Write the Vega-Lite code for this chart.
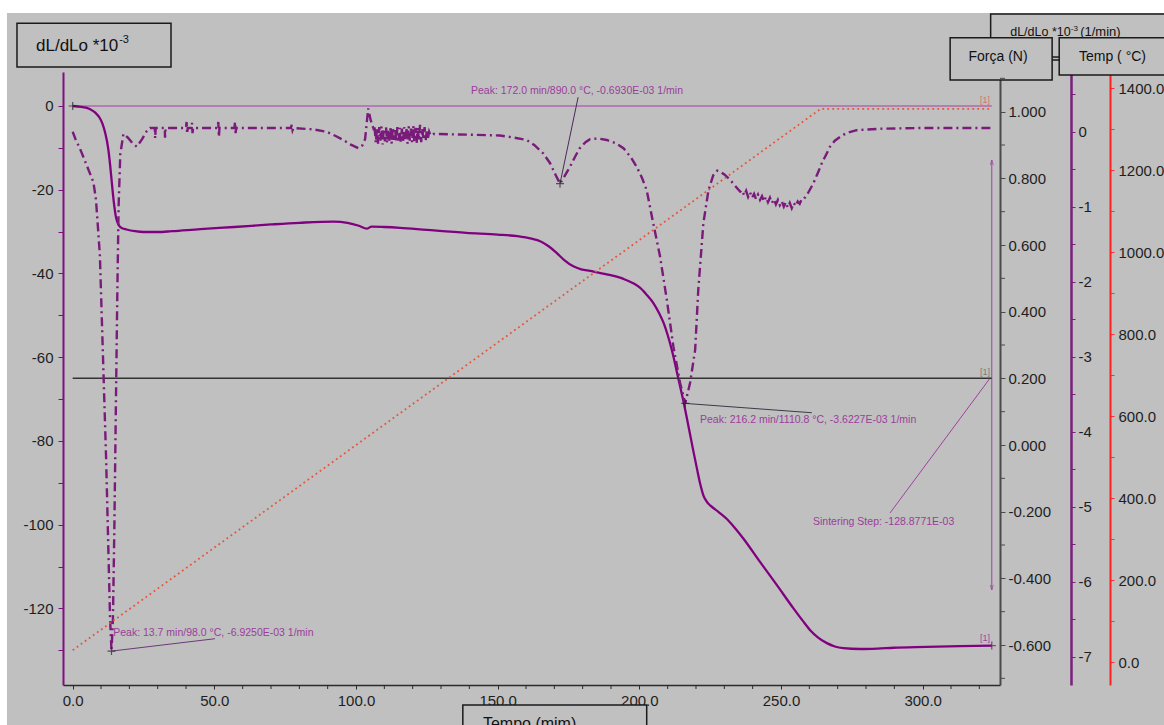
{
  "$schema": "https://vega.github.io/schema/vega-lite/v6.json",
  "width": 937,
  "height": 613,
  "autosize": {"type": "none"},
  "padding": {"left": 63, "top": 72, "right": 164, "bottom": 40},
  "background": "#c0c0c0",
  "config": {
    "view": {"stroke": null},
    "font": "Liberation Sans",
    "locale": {"number": {"decimal": ".", "thousands": ",", "grouping": [3], "currency": ["$", ""], "minus": "-"}},
    "axis": {"grid": false, "title": null, "labelFont": "Liberation Sans", "labelFontSize": 15, "labelColor": "#1e1e1e", "labelOverlap": false, "labelFlush": false}
  },
  "datasets": {
    "dl": [
      {"t":0,"v":0},{"t":3,"v":-0.2},{"t":6,"v":-0.7},{"t":8,"v":-1.6},{"t":9.5,"v":-2.8},{"t":10.5,"v":-4.2},{"t":11.5,"v":-6.5},{"t":12.5,"v":-10},{"t":13.2,"v":-14},{"t":13.7,"v":-17.5},{"t":14.2,"v":-21},{"t":14.7,"v":-24},{"t":15.2,"v":-26.3},{"t":15.8,"v":-27.8},{"t":16.5,"v":-28.7},{"t":17.5,"v":-29.2},{"t":19,"v":-29.5},{"t":22,"v":-29.9},{"t":25,"v":-30.1},{"t":30,"v":-30.1},{"t":35,"v":-29.9},{"t":45,"v":-29.4},{"t":57,"v":-28.9},{"t":70,"v":-28.3},{"t":80,"v":-27.9},{"t":92,"v":-27.6},{"t":97,"v":-27.9},{"t":101,"v":-28.6},{"t":103.8,"v":-29.3},{"t":105.5,"v":-28.8},{"t":110,"v":-28.9},{"t":115.5,"v":-29.1},{"t":125,"v":-29.6},{"t":139,"v":-30.3},{"t":150,"v":-30.7},{"t":157,"v":-31.1},{"t":162,"v":-31.7},{"t":165,"v":-32.3},{"t":168,"v":-33.5},{"t":170.8,"v":-35.1},{"t":173.5,"v":-36.8},{"t":176.7,"v":-38.3},{"t":179.5,"v":-39},{"t":182.6,"v":-39.4},{"t":188.5,"v":-40.2},{"t":194.4,"v":-41.3},{"t":198,"v":-42.4},{"t":200.2,"v":-43.4},{"t":202.5,"v":-45},{"t":204.9,"v":-47},{"t":207,"v":-49.5},{"t":208.5,"v":-51.7},{"t":210,"v":-54.7},{"t":211.4,"v":-58.1},{"t":212.6,"v":-61.5},{"t":213.8,"v":-65.2},{"t":215.5,"v":-70.3},{"t":216.7,"v":-74.3},{"t":217.9,"v":-78.4},{"t":219,"v":-82.2},{"t":220.3,"v":-86.5},{"t":221.5,"v":-90.3},{"t":222.6,"v":-93},{"t":224,"v":-94.7},{"t":225,"v":-95.4},{"t":228,"v":-97},{"t":230.8,"v":-98.6},{"t":233.5,"v":-100.6},{"t":236.7,"v":-103.3},{"t":242.6,"v":-108.9},{"t":248.5,"v":-114.4},{"t":254.4,"v":-120},{"t":257.5,"v":-122.8},{"t":260.3,"v":-125.2},{"t":263,"v":-126.9},{"t":266.2,"v":-128.3},{"t":269,"v":-129.1},{"t":272,"v":-129.5},{"t":277.9,"v":-129.7},{"t":284,"v":-129.6},{"t":289.7,"v":-129.4},{"t":301.4,"v":-129.2},{"t":313.2,"v":-129.0},{"t":324.4,"v":-128.88}
    ],
    "deriv": [
      {"t":0,"v":0},{"t":1,"v":-0.1},{"t":2.5,"v":-0.22},{"t":3.7,"v":-0.33},{"t":5.5,"v":-0.5},{"t":7.3,"v":-0.67},{"t":8.2,"v":-0.9},{"t":8.7,"v":-1.16},{"t":9.6,"v":-1.65},{"t":10.2,"v":-2.39},{"t":10.8,"v":-3.13},{"t":11.8,"v":-4.36},{"t":12.6,"v":-5.59},{"t":13.2,"v":-6.5},{"t":13.7,"v":-6.925},{"t":14.2,"v":-6.5},{"t":14.7,"v":-5.3},{"t":15.2,"v":-3.8},{"t":15.7,"v":-2.3},{"t":16.2,"v":-1.0},{"t":16.8,"v":-0.3},{"t":17.9,"v":-0.03},{"t":19.5,"v":-0.08},{"t":21,"v":-0.15},{"t":22.6,"v":-0.2},{"t":24.5,"v":-0.1},{"t":26,"v":0.0},{"t":27.3,"v":0.05},
      {"t":29,"v":0.05},{"t":29.1,"v":-0.09},{"t":29.3,"v":0.05},{"t":32.5,"v":0.05},{"t":32.6,"v":-0.08},{"t":32.8,"v":0.05},{"t":40,"v":0.05},{"t":40.2,"v":0.13},{"t":40.4,"v":-0.03},{"t":40.6,"v":0.05},{"t":42,"v":0.05},{"t":42.1,"v":0.12},{"t":42.3,"v":-0.02},{"t":42.5,"v":0.05},{"t":51.2,"v":0.05},{"t":51.4,"v":0.13},{"t":51.6,"v":-0.07},{"t":51.8,"v":0.05},{"t":57.1,"v":0.05},{"t":57.3,"v":0.13},{"t":57.5,"v":-0.02},{"t":57.7,"v":0.05},{"t":77,"v":0.05},{"t":77.3,"v":0.09},{"t":77.6,"v":0.02},{"t":77.9,"v":0.05},
      {"t":85,"v":0.03},{"t":89.6,"v":0},{"t":93,"v":-0.06},{"t":95.5,"v":-0.11},{"t":98,"v":-0.17},{"t":100.8,"v":-0.22},{"t":102.3,"v":-0.18},{"t":103.2,"v":-0.1},{"t":104.3,"v":0.31},{"t":105.2,"v":0.15},{"t":106.1,"v":0.05},
      {"t":106.5,"v":0.08},{"t":107,"v":-0.15},{"t":107.4,"v":0.05},{"t":107.8,"v":-0.16},{"t":108.2,"v":0.06},{"t":108.6,"v":-0.12},{"t":109,"v":0.07},{"t":109.4,"v":-0.17},{"t":109.8,"v":0.04},{"t":110.2,"v":-0.13},{"t":110.6,"v":0.06},{"t":111,"v":-0.15},{"t":111.4,"v":0.03},{"t":111.8,"v":-0.12},{"t":112.2,"v":0.07},{"t":112.6,"v":-0.16},{"t":113,"v":0.05},{"t":113.4,"v":-0.11},{"t":113.8,"v":0.04},{"t":114.2,"v":-0.14},{"t":114.6,"v":0.06},{"t":115,"v":-0.12},{"t":115.4,"v":0.05},{"t":115.8,"v":-0.15},{"t":116.2,"v":0.04},{"t":116.6,"v":-0.13},{"t":117,"v":0.06},{"t":117.4,"v":-0.1},{"t":117.8,"v":0.05},{"t":118.2,"v":-0.16},{"t":118.6,"v":0.07},{"t":119,"v":-0.12},{"t":119.4,"v":0.04},{"t":119.8,"v":-0.14},{"t":120.2,"v":0.08},{"t":120.6,"v":-0.13},{"t":121,"v":0.05},{"t":121.4,"v":-0.15},{"t":121.8,"v":0.06},{"t":122.2,"v":-0.12},{"t":122.6,"v":0.09},{"t":123,"v":-0.14},{"t":123.4,"v":0.04},{"t":123.8,"v":-0.11},{"t":124.2,"v":0.06},{"t":124.6,"v":-0.12},{"t":125,"v":0.03},{"t":125.4,"v":-0.08},{"t":125.8,"v":0.0},{"t":126.3,"v":-0.05},
      {"t":127.3,"v":-0.03},{"t":140,"v":-0.04},{"t":150.8,"v":-0.05},{"t":156,"v":-0.08},{"t":160.2,"v":-0.11},{"t":163,"v":-0.18},{"t":166.1,"v":-0.29},{"t":168.5,"v":-0.42},{"t":170.5,"v":-0.58},{"t":172,"v":-0.693},{"t":173.5,"v":-0.6},{"t":175.5,"v":-0.47},{"t":177.5,"v":-0.32},{"t":179,"v":-0.22},{"t":181,"v":-0.14},{"t":182.6,"v":-0.1},{"t":185.5,"v":-0.09},{"t":188.5,"v":-0.11},{"t":191.5,"v":-0.15},{"t":194.4,"v":-0.22},{"t":197,"v":-0.34},{"t":199.1,"v":-0.47},{"t":201,"v":-0.62},{"t":202.6,"v":-0.78},{"t":204.9,"v":-1.22},{"t":207.3,"v":-1.66},{"t":209.7,"v":-2.24},{"t":212,"v":-2.86},{"t":214.4,"v":-3.35},{"t":216.2,"v":-3.6227},{"t":217.9,"v":-3.35},{"t":219.7,"v":-2.91},{"t":220.8,"v":-2.11},{"t":222.6,"v":-1.22},{"t":224.4,"v":-0.78},{"t":226.1,"v":-0.58},{"t":227.5,"v":-0.52},{"t":228.5,"v":-0.53},{"t":230,"v":-0.57},{"t":232,"v":-0.64},{"t":234,"v":-0.73},{"t":235.6,"v":-0.8},
      {"t":236.3,"v":-0.78},{"t":237,"v":-0.85},{"t":237.7,"v":-0.79},{"t":238.4,"v":-0.87},{"t":239.1,"v":-0.81},{"t":239.8,"v":-0.88},{"t":240.5,"v":-0.83},{"t":241.2,"v":-0.9},{"t":241.9,"v":-0.84},{"t":242.6,"v":-0.91},{"t":243.3,"v":-0.86},{"t":244,"v":-0.93},{"t":244.7,"v":-0.87},{"t":245.4,"v":-0.94},{"t":246.1,"v":-0.88},{"t":246.8,"v":-0.95},{"t":247.5,"v":-0.9},{"t":248.2,"v":-0.97},{"t":248.9,"v":-0.91},{"t":249.6,"v":-0.98},{"t":250.3,"v":-0.93},{"t":251,"v":-1.0},{"t":251.7,"v":-0.94},{"t":252.4,"v":-1.01},{"t":253.1,"v":-0.95},{"t":253.8,"v":-1.02},{"t":254.5,"v":-0.95},{"t":255.2,"v":-0.99},{"t":255.9,"v":-0.93},{"t":256.6,"v":-0.96},{"t":257.3,"v":-0.9},{"t":258,"v":-0.9},
      {"t":259.5,"v":-0.82},{"t":261.4,"v":-0.69},{"t":263,"v":-0.55},{"t":264.4,"v":-0.42},{"t":266,"v":-0.3},{"t":267.3,"v":-0.2},{"t":269,"v":-0.12},{"t":270.8,"v":-0.07},{"t":273,"v":-0.02},{"t":276.7,"v":0.02},{"t":285,"v":0.04},{"t":300,"v":0.05},{"t":324.4,"v":0.05}
    ],
    "temp": [
      {"t":0,"v":29.5},{"t":13.7,"v":98.0},{"t":172,"v":890.0},{"t":216.2,"v":1110.8},{"t":264,"v":1350},{"t":324.4,"v":1350}
    ],
    "force": [
      {"t":0,"v":0.2},{"t":324.4,"v":0.2}
    ],
    "xminor": [
      {"t":10},{"t":20},{"t":30},{"t":40},{"t":60},{"t":70},{"t":80},{"t":90},{"t":110},{"t":120},{"t":130},{"t":140},{"t":160},{"t":170},{"t":180},{"t":190},{"t":210},{"t":220},{"t":230},{"t":240},{"t":260},{"t":270},{"t":280},{"t":290},{"t":310},{"t":320}
    ],
    "fminor": [
      {"v":-0.7},{"v":-0.5},{"v":-0.3},{"v":-0.1},{"v":0.1},{"v":0.3},{"v":0.5},{"v":0.7},{"v":0.9},{"v":1.1}
    ]
  },
  "layer": [
    {
      "layer": [
        {"data": {"values": [{}]}, "mark": {"type": "rect", "fill": "#ffffff", "clip": false},
         "encoding": {"x": {"datum": -40}, "x2": {"datum": 420}, "y": {"datum": 40}, "y2": {"datum": 22.2}}},
        {"data": {"values": [{}]}, "mark": {"type": "rect", "fill": "#ffffff", "clip": false},
         "encoding": {"x": {"datum": -40}, "x2": {"datum": -23.2}, "y": {"datum": 40}, "y2": {"datum": -200}}},
        {"data": {"values": [{}]}, "mark": {"type": "rule", "color": "#a040a0", "strokeWidth": 1.2},
         "encoding": {"x": {"datum": 0}, "x2": {"datum": 324.4}, "y": {"datum": 0}}},
        {"data": {"name": "dl"}, "mark": {"type": "line", "color": "#800080", "strokeWidth": 2.3, "interpolate": "monotone"},
         "encoding": {
           "x": {
             "field": "t", "type": "quantitative",
             "scale": {"domain": [-3.42, 327.3], "nice": false, "zero": false},
             "axis": {
               "values": [0,50,100,150,200,250,300],
               "format": ".1f",
               "labelOverlap": false,
               "domainColor": "#2b2b2b", "domainWidth": 1.5, "tickColor": "#2b2b2b", "tickSize": 4, "labelPadding": 4
             }
           },
           "y": {
             "field": "v", "type": "quantitative",
             "scale": {"domain": [-138.3, 8.12], "nice": false, "zero": false},
             "axis": {
               "orient": "left",
               "values": [0,-10,-20,-30,-40,-50,-60,-70,-80,-90,-100,-110,-120,-130],
               "labelExpr": "datum.value % 20 == 0 ? replace(format(datum.value, 'd'), '\u2212', '-') : ''",
               "labelOverlap": false,
               "domainColor": "#7f0f7f", "domainWidth": 2, "tickColor": "#7f0f7f", "tickSize": 5, "labelPadding": 5
             }
           }
         }},
        {"data": {"name": "xminor"}, "mark": {"type": "rule", "color": "#2b2b2b", "strokeWidth": 1, "clip": false},
         "encoding": {"x": {"field": "t", "type": "quantitative"}, "y": {"datum": -138.3}, "y2": {"datum": -139.26}}},
        {"data": {"values": [{}]}, "mark": {"type": "point", "shape": "M-1,0L1,0M0,-1L0,1", "filled": false, "size": 64, "strokeWidth": 1.2, "color": "#222222"},
         "encoding": {"x": {"datum": 0}, "y": {"datum": 0}}},
        {"data": {"values": [{}]}, "mark": {"type": "point", "shape": "M-1,0L1,0M0,-1L0,1", "filled": false, "size": 64, "strokeWidth": 1.2, "color": "#5a1a5a"},
         "encoding": {"x": {"datum": 324.4}, "y": {"datum": -128.88}}},
        {"data": {"values": [{}]}, "mark": {"type": "text", "text": "[1]", "fontSize": 9, "color": "#a040a0", "align": "center", "baseline": "middle"},
         "encoding": {"x": {"datum": 322}, "y": {"datum": -127.1}}},
        {"data": {"values": [{}]}, "mark": {"type": "rule", "color": "#a040a0", "strokeWidth": 1},
         "encoding": {"x": {"datum": 324.4}, "y": {"datum": -12.9}, "y2": {"datum": -115.6}}},
        {"data": {"values": [{}]}, "mark": {"type": "point", "shape": "M-0.3,1L0,0L0.3,1", "filled": false, "size": 100, "strokeWidth": 1, "color": "#a040a0"},
         "encoding": {"x": {"datum": 324.4}, "y": {"datum": -12.9}}},
        {"data": {"values": [{}]}, "mark": {"type": "point", "shape": "M-0.3,-1L0,0L0.3,-1", "filled": false, "size": 100, "strokeWidth": 1, "color": "#a040a0"},
         "encoding": {"x": {"datum": 324.4}, "y": {"datum": -115.6}}},
        {"data": {"values": [{}]}, "mark": {"type": "rule", "color": "#a040a0", "strokeWidth": 1},
         "encoding": {"x": {"datum": 288.5}, "y": {"datum": -97.2}, "x2": {"datum": 323.8}, "y2": {"datum": -65.0}}},
        {"data": {"values": [{}]}, "mark": {"type": "text", "text": "Sintering Step: -128.8771E-03", "fontSize": 10.5, "color": "#9b3d9b", "align": "left", "baseline": "middle"},
         "encoding": {"x": {"datum": 261.3}, "y": {"datum": -99.3}}},
        {"data": {"values": [{}]}, "mark": {"type": "rect", "fill": "#c0c0c0", "stroke": "#1a1a1a", "strokeWidth": 1.5, "clip": false},
         "encoding": {"x": {"datum": -19.66}, "x2": {"datum": 34.7}, "y": {"datum": 19.76}, "y2": {"datum": 9.29}}},
        {"data": {"values": [{}]}, "mark": {"type": "text", "text": "dL/dLo *10", "fontSize": 17, "color": "#111111", "align": "left", "baseline": "middle"},
         "encoding": {"x": {"datum": -12.95}, "y": {"datum": 14.4}}},
        {"data": {"values": [{}]}, "mark": {"type": "text", "text": "-3", "fontSize": 11, "color": "#111111", "align": "left", "baseline": "middle"},
         "encoding": {"x": {"datum": 16.4}, "y": {"datum": 15.8}}},
        {"data": {"values": [{}]}, "mark": {"type": "rect", "fill": "#c0c0c0", "stroke": "#1a1a1a", "strokeWidth": 1.5, "clip": false},
         "encoding": {"x": {"datum": 324.0}, "x2": {"datum": 387.3}, "y": {"datum": 22.0}, "y2": {"datum": 11.0}}},
        {"data": {"values": [{}]}, "mark": {"type": "text", "text": "dL/dLo *10", "fontSize": 12.5, "color": "#111111", "align": "left", "baseline": "middle"},
         "encoding": {"x": {"datum": 330.9}, "y": {"datum": 17.7}}},
        {"data": {"values": [{}]}, "mark": {"type": "text", "text": "-3", "fontSize": 8, "color": "#111111", "align": "left", "baseline": "middle"},
         "encoding": {"x": {"datum": 352.3}, "y": {"datum": 18.5}}},
        {"data": {"values": [{}]}, "mark": {"type": "text", "text": "(1/min)", "fontSize": 13, "color": "#111111", "align": "left", "baseline": "middle"},
         "encoding": {"x": {"datum": 355.6}, "y": {"datum": 17.7}}},
        {"data": {"values": [{}]}, "mark": {"type": "rule", "color": "#1a1a1a", "strokeWidth": 1.5},
         "encoding": {"x": {"datum": 345.7}, "x2": {"datum": 348.2}, "y": {"datum": 11.7}}},
        {"data": {"values": [{}]}, "mark": {"type": "rect", "fill": "#c0c0c0", "stroke": "#1a1a1a", "strokeWidth": 1.5, "clip": false},
         "encoding": {"x": {"datum": 309.7}, "x2": {"datum": 345.7}, "y": {"datum": 16.3}, "y2": {"datum": 6.2}}},
        {"data": {"values": [{}]}, "mark": {"type": "text", "text": "Força (N)", "fontSize": 14, "color": "#111111", "align": "center", "baseline": "middle"},
         "encoding": {"x": {"datum": 326.6}, "y": {"datum": 11.7}}},
        {"data": {"values": [{}]}, "mark": {"type": "rect", "fill": "#c0c0c0", "stroke": "#1a1a1a", "strokeWidth": 1.5, "clip": false},
         "encoding": {"x": {"datum": 348.2}, "x2": {"datum": 387.3}, "y": {"datum": 16.3}, "y2": {"datum": 7.4}}},
        {"data": {"values": [{}]}, "mark": {"type": "text", "text": "Temp ( °C)", "fontSize": 14, "color": "#111111", "align": "center", "baseline": "middle"},
         "encoding": {"x": {"datum": 367.0}, "y": {"datum": 11.7}}},
        {"data": {"values": [{}]}, "mark": {"type": "rect", "fill": "#c0c0c0", "stroke": "#1a1a1a", "strokeWidth": 1.5, "clip": false},
         "encoding": {"x": {"datum": 137.7}, "x2": {"datum": 202.6}, "y": {"datum": -143.1}, "y2": {"datum": -156.2}}},
        {"data": {"values": [{}]}, "mark": {"type": "text", "text": "Tempo (mim)", "fontSize": 16, "color": "#111111", "align": "left", "baseline": "alphabetic"},
         "encoding": {"x": {"datum": 144.8}, "y": {"datum": -148.7}}}
      ]
    },
    {
      "layer": [
        {"data": {"name": "force"}, "mark": {"type": "line", "color": "#333333", "strokeWidth": 1.5},
         "encoding": {
           "x": {"field": "t", "type": "quantitative"},
           "y": {
             "field": "v", "type": "quantitative",
             "scale": {"domain": [-0.72, 1.119], "nice": false, "zero": false},
             "axis": {
               "orient": "right", "offset": 0,
               "values": [-0.6,-0.4,-0.2,0,0.2,0.4,0.6,0.8,1.0],
               "format": ".3f",
               "labelOverlap": false,
               "domainColor": "#4a4a4a", "domainWidth": 2, "tickColor": "#4a4a4a", "tickSize": 5, "labelPadding": 3
             }
           }
         }},
        {"data": {"name": "fminor"}, "mark": {"type": "rule", "color": "#4a4a4a", "strokeWidth": 1, "clip": false},
         "encoding": {"x": {"datum": 327.3}, "x2": {"datum": 329.06}, "y": {"field": "v", "type": "quantitative"}}},
        {"data": {"values": [{}]}, "mark": {"type": "text", "text": "[1]", "fontSize": 9, "color": "#7a7a7a", "align": "center", "baseline": "middle"},
         "encoding": {"x": {"datum": 322}, "y": {"datum": 0.219}}}
      ]
    },
    {
      "layer": [
        {"data": {"name": "deriv"}, "mark": {"type": "line", "color": "#7a1a7a", "strokeWidth": 2.4, "strokeDash": [9, 4, 2, 4]},
         "encoding": {
           "x": {"field": "t", "type": "quantitative"},
           "y": {
             "field": "v", "type": "quantitative",
             "scale": {"domain": [-7.377, 0.796], "nice": false, "zero": false},
             "axis": {
               "orient": "right", "offset": 71,
               "values": [0.5,0,-0.5,-1,-1.5,-2,-2.5,-3,-3.5,-4,-4.5,-5,-5.5,-6,-6.5,-7],
               "labelExpr": "datum.value % 1 == 0 ? replace(format(datum.value, 'd'), '\u2212', '-') : ''",
               "labelOverlap": false,
               "domainColor": "#7a1f7a", "domainWidth": 2.5, "tickColor": "#7a1f7a", "tickSize": 4, "labelPadding": 3
             }
           }
         }},
        {"data": {"values": [{}]}, "mark": {"type": "rule", "color": "#6a3a7a", "strokeWidth": 1},
         "encoding": {"x": {"datum": 13.7}, "y": {"datum": -6.925}, "x2": {"datum": 50.2}, "y2": {"datum": -6.76}}},
        {"data": {"values": [{}]}, "mark": {"type": "rule", "color": "#4a2a5a", "strokeWidth": 1},
         "encoding": {"x": {"datum": 172}, "y": {"datum": -0.693}, "x2": {"datum": 178.4}, "y2": {"datum": 0.46}}},
        {"data": {"values": [{}]}, "mark": {"type": "rule", "color": "#3a3a4a", "strokeWidth": 1},
         "encoding": {"x": {"datum": 216.2}, "y": {"datum": -3.6227}, "x2": {"datum": 260.9}, "y2": {"datum": -3.747}}},
        {"data": {"values": [{}]}, "mark": {"type": "point", "shape": "M-1,0L1,0M0,-1L0,1", "filled": false, "size": 64, "strokeWidth": 1.2, "color": "#222222"},
         "encoding": {"x": {"datum": 13.7}, "y": {"datum": -6.925}}},
        {"data": {"values": [{}]}, "mark": {"type": "point", "shape": "M-1,0L1,0M0,-1L0,1", "filled": false, "size": 64, "strokeWidth": 1.2, "color": "#222222"},
         "encoding": {"x": {"datum": 172}, "y": {"datum": -0.693}}},
        {"data": {"values": [{}]}, "mark": {"type": "point", "shape": "M-1,0L1,0M0,-1L0,1", "filled": false, "size": 64, "strokeWidth": 1.2, "color": "#222222"},
         "encoding": {"x": {"datum": 216.2}, "y": {"datum": -3.6227}}},
        {"data": {"values": [{}]}, "mark": {"type": "text", "text": "Peak: 13.7 min/98.0 °C, -6.9250E-03 1/min", "fontSize": 10.5, "color": "#9b3d9b", "align": "left", "baseline": "middle"},
         "encoding": {"x": {"datum": 14.3}, "y": {"datum": -6.68}}},
        {"data": {"values": [{}]}, "mark": {"type": "text", "text": "Peak: 172.0 min/890.0 °C, -0.6930E-03 1/min", "fontSize": 10.5, "color": "#9b3d9b", "align": "center", "baseline": "middle"},
         "encoding": {"x": {"datum": 178}, "y": {"datum": 0.54}}},
        {"data": {"values": [{}]}, "mark": {"type": "text", "text": "Peak: 216.2 min/1110.8 °C, -3.6227E-03 1/min", "fontSize": 10.5, "color": "#9b3d9b", "align": "left", "baseline": "middle"},
         "encoding": {"x": {"datum": 221.4}, "y": {"datum": -3.844}}}
      ]
    },
    {
      "layer": [
        {"data": {"name": "temp"}, "mark": {"type": "line", "color": "#e4553a", "strokeWidth": 1.8, "strokeDash": [1.8, 3.2]},
         "encoding": {
           "x": {"field": "t", "type": "quantitative"},
           "y": {
             "field": "v", "type": "quantitative",
             "scale": {"domain": [-55.4, 1439.8], "nice": false, "zero": false},
             "axis": {
               "orient": "right", "offset": 110,
               "values": [0,100,200,300,400,500,600,700,800,900,1000,1100,1200,1300,1400],
               "labelExpr": "datum.value % 200 == 0 ? format(datum.value, '.1f') : ''",
               "labelOverlap": false,
               "domainColor": "#ff2020", "domainWidth": 2, "tickColor": "#ff3030", "tickSize": 4, "labelPadding": 4
             }
           }
         }},
        {"data": {"values": [{}]}, "mark": {"type": "text", "text": "[1]", "fontSize": 9, "color": "#e06a6a", "align": "center", "baseline": "middle"},
         "encoding": {"x": {"datum": 322}, "y": {"datum": 1371}}}
      ]
    }
  ],
  "resolve": {"scale": {"y": "independent"}}
}
